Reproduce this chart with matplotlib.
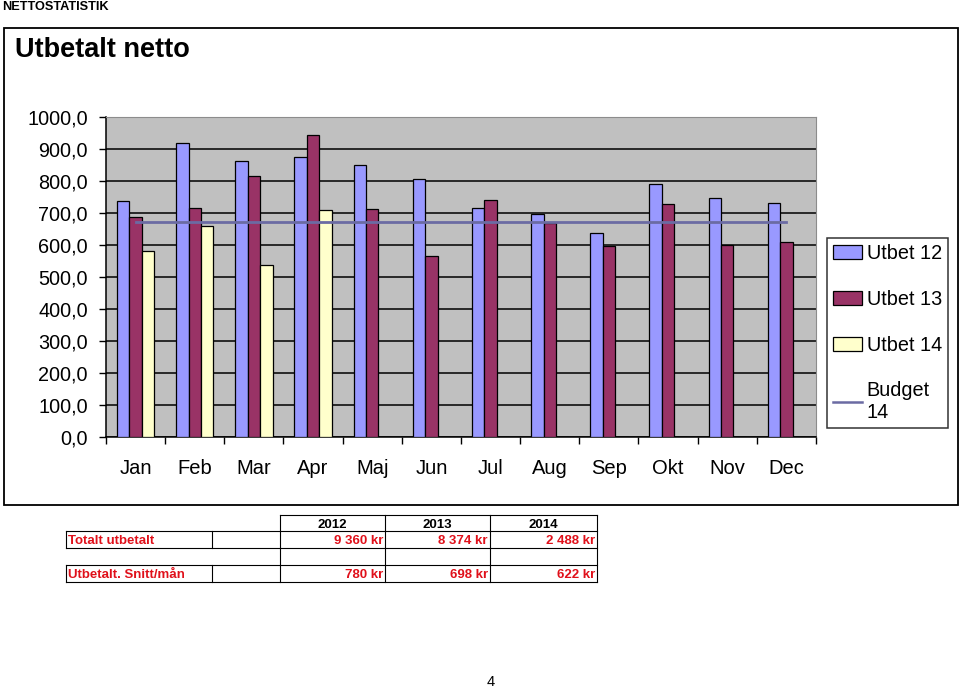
import numpy as np
import matplotlib
matplotlib.use('Agg')
import matplotlib.pyplot as plt
import matplotlib.patches as patches
from matplotlib.lines import Line2D

plt.rcParams['font.family'] = ['Liberation Sans', 'DejaVu Sans']

# ===========================================================
# data
months = ['Jan', 'Feb', 'Mar', 'Apr', 'Maj', 'Jun', 'Jul', 'Aug', 'Sep', 'Okt', 'Nov', 'Dec']
utbet12 = [739, 919, 864, 874, 851, 807, 717, 697, 639, 790, 748, 730]
utbet13 = [689, 715, 817, 945, 712, 566, 741, 670, 597, 727, 599, 608]
utbet14 = [580, 660, 538, 710, 0, 0, 0, 0, 0, 0, 0, 0]
budget14 = [673, 673, 673, 673, 673, 673, 673, 673, 673, 673, 673, 673]

years = ['2012', '2013', '2014']
totals = ['9 360 kr', '8 374 kr', '2 488 kr']
snitt = ['780 kr', '698 kr', '622 kr']

W, H = 960, 688
c12 = '#9999FF'
c13 = '#993366'
c14 = '#FFFFCC'
cbud = '#6B6BA3'
red_txt = '#E0101A'

fig = plt.figure(figsize=(W / 100, H / 100), dpi=100)

def fx(x):
    return x / W

def fy(y):
    return 1 - y / H

# outer chart frame
fig.patches.append(patches.Rectangle((fx(4), fy(505)), fx(958) - fx(4), fy(28) - fy(505),
                                     transform=fig.transFigure, fill=False,
                                     edgecolor='black', linewidth=1.3))
fig.text(fx(2), fy(7), 'NETTOSTATISTIK', fontsize=9.2, fontweight='bold', va='center', ha='left')
fig.text(fx(15), fy(50), 'Utbetalt netto', fontsize=19.5, fontweight='bold', va='center', ha='left')

# ===========================================================
# the bar chart
ax = fig.add_axes([fx(106), fy(437), fx(816) - fx(106), fy(117) - fy(437)])
ax.set_facecolor('#C0C0C0')

x = np.arange(len(months))
bw = 0.21
ax.bar(x - bw, utbet12, bw, color=c12, edgecolor='black', linewidth=0.9, zorder=3)
ax.bar(x, utbet13, bw, color=c13, edgecolor='black', linewidth=0.9, zorder=3)
ax.bar(x + bw, utbet14, bw, color=c14, edgecolor='black', linewidth=0.9, zorder=3)
ax.plot(x, budget14, color=cbud, linewidth=2.0, zorder=4)

ax.set_xlim(-0.5, len(months) - 0.5)
ax.set_ylim(0, 1000)
ax.set_yticks(np.arange(0, 1001, 100))
ax.set_yticklabels(['%d,0' % v for v in range(0, 1001, 100)], fontsize=14.3)
ax.set_xticks(x)
ax.set_xticklabels(months, fontsize=14.5)
ax.set_xticks(np.arange(-0.5, len(months)), minor=True)
ax.tick_params(axis='x', which='major', length=0, pad=16)
ax.tick_params(axis='x', which='minor', length=5, direction='out', width=1)
ax.tick_params(axis='y', length=5, direction='out', width=1, pad=8)
ax.yaxis.grid(True, color='black', linewidth=1.1, zorder=1)
ax.set_axisbelow(True)
for s in ['top', 'right']:
    ax.spines[s].set_color('#8C8C8C')
for s in ['left', 'bottom']:
    ax.spines[s].set_color('black')
    ax.spines[s].set_linewidth(1.1)

# legend
handles = [patches.Patch(facecolor=c12, edgecolor='black', linewidth=0.9),
           patches.Patch(facecolor=c13, edgecolor='black', linewidth=0.9),
           patches.Patch(facecolor=c14, edgecolor='black', linewidth=0.9),
           Line2D([0], [0], color=cbud, linewidth=1.8)]
leg = fig.legend(handles, ['Utbet 12', 'Utbet 13', 'Utbet 14', 'Budget\n14'],
                 loc='upper left', bbox_to_anchor=(fx(827), fy(238)),
                 bbox_transform=fig.transFigure, fontsize=14.3, frameon=True,
                 fancybox=False, edgecolor='black', borderpad=0.3,
                 labelspacing=1.35, handlelength=1.45, handletextpad=0.25,
                 borderaxespad=0)
leg.get_frame().set_linewidth(1.1)
leg.get_frame().set_width(fx(950) - fx(827))

# ===========================================================
# table under the chart
col_x = [66, 212, 280, 385, 490, 597]
row_y = [515, 531, 548, 565, 582]
lc = 'black'
lw = 0.8

def hline(y, x0, x1):
    fig.add_artist(Line2D([fx(x0), fx(x1)], [fy(y), fy(y)], transform=fig.transFigure,
                          color=lc, linewidth=lw))

def vline(x0, y0, y1):
    fig.add_artist(Line2D([fx(x0), fx(x0)], [fy(y0), fy(y1)], transform=fig.transFigure,
                          color=lc, linewidth=lw))

hline(row_y[0], col_x[2], col_x[5])
for yy in row_y[1:]:
    hline(yy, col_x[0], col_x[5])
for xx in col_x[2:]:
    vline(xx, row_y[0], row_y[4])
for xx in col_x[:2]:
    vline(xx, row_y[1], row_y[2])
    vline(xx, row_y[3], row_y[4])

def mid(a, b):
    return (a + b) / 2 + 1.5

for i, yr in enumerate(years):
    cx = (col_x[2 + i] + col_x[3 + i]) / 2
    fig.text(fx(cx), fy(mid(row_y[0], row_y[1])), yr, fontsize=9.5, fontweight='bold',
             ha='center', va='center')
    fig.text(fx(col_x[3 + i] - 2), fy(mid(row_y[1], row_y[2])), totals[i], fontsize=9.5,
             fontweight='bold', ha='right', va='center', color=red_txt)
    fig.text(fx(col_x[3 + i] - 2), fy(mid(row_y[3], row_y[4])), snitt[i], fontsize=9.5,
             fontweight='bold', ha='right', va='center', color=red_txt)

fig.text(fx(col_x[0] + 2), fy(mid(row_y[1], row_y[2])), 'Totalt utbetalt', fontsize=9.5,
         fontweight='bold', ha='left', va='center', color=red_txt)
fig.text(fx(col_x[0] + 2), fy(mid(row_y[3], row_y[4])), 'Utbetalt. Snitt/mån', fontsize=9.5,
         fontweight='bold', ha='left', va='center', color=red_txt)

fig.text(fx(491), fy(682), '4', fontsize=10.5, ha='center', va='center')

fig.savefig('out.png', dpi=100)
